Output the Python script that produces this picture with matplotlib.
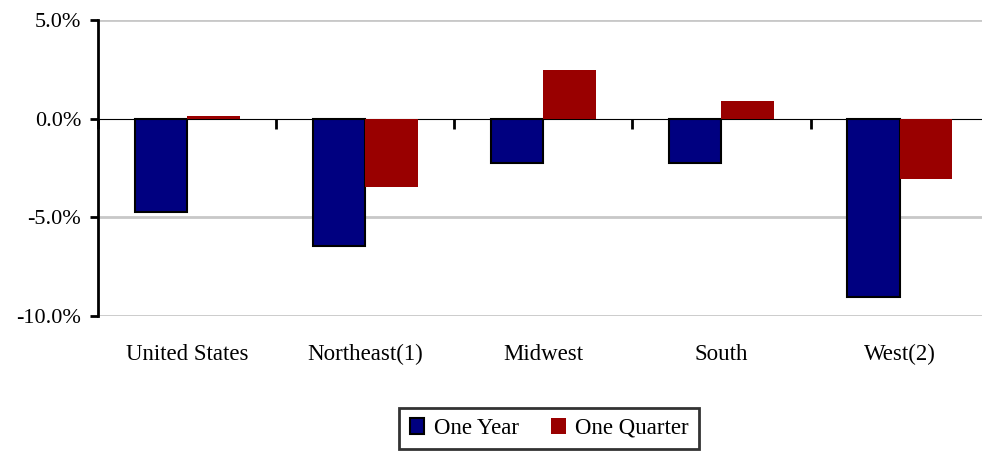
import matplotlib
matplotlib.use('Agg')
import matplotlib.pyplot as plt
import matplotlib.ticker as ticker
import numpy as np

regions = ['United States', 'Northeast(1)', 'Midwest', 'South', 'West(2)']
one_year = [-4.75, -6.45, -2.25, -2.25, -9.05]
one_quarter = [0.15, -3.45, 2.45, 0.9, -3.05]
y_ticks = [5, 0, -5, -10]

plt.rcParams['font.family'] = ['Liberation Serif', 'DejaVu Serif']

fig = plt.figure(figsize=(9.82, 4.51), dpi=100)
ax = fig.add_axes([0.0998, 0.2993, 0.907, 0.6563])

x = np.arange(len(regions))
w = 0.295
ax.bar(x - w / 2, one_year, w, color='#000080', edgecolor='black', linewidth=1.5,
       label='One Year', zorder=3)
ax.bar(x + w / 2, one_quarter, w, color='#990000', edgecolor='none',
       label='One Quarter', zorder=3)

ax.set_xlim(-0.5, len(regions) - 0.5)
ax.set_ylim(-10, 5)
ax.set_yticks(y_ticks)
ax.yaxis.set_major_formatter(ticker.FuncFormatter(lambda v, p: '%.1f%%' % v))
ax.tick_params(axis='y', direction='out', length=6, width=2, labelsize=16, pad=6)

# grid lines (except zero)
for v in y_ticks:
    if v != 0:
        ax.axhline(v, color='#c8c8c8', linewidth=2, zorder=1)

for s in ['top', 'right', 'bottom']:
    ax.spines[s].set_visible(False)
ax.spines['left'].set_linewidth(2)

ax.set_xticks(x)
ax.set_xticklabels(regions, fontsize=16.5)
ax.tick_params(axis='x', length=0, pad=20)

# zero line with tick marks at category boundaries
sec = ax.secondary_xaxis(10 / 15)
sec.set_xticks(np.arange(len(regions) + 1) - 0.5)
sec.set_xticklabels([])
sec.tick_params(axis='x', direction='in', length=7, width=2)
sec.spines['bottom'].set_linewidth(2)

leg = fig.legend(loc='center', bbox_to_anchor=(0.559, 0.05), ncol=2, fontsize=16.5,
                 frameon=True, fancybox=False, handlelength=0.65, handleheight=0.65,
                 handletextpad=0.4, columnspacing=1.4, borderpad=0.45)
leg.get_frame().set_edgecolor('black')
leg.get_frame().set_linewidth(2)

fig.savefig('out.png', dpi=100)
